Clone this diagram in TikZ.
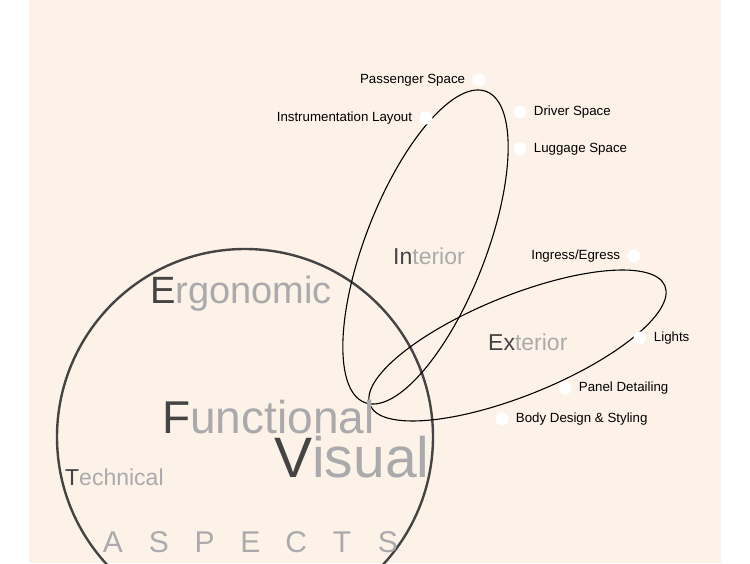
\documentclass[tikz,border=0pt]{standalone}
\usepackage{xcolor}
\usepackage{fontspec}
\setmainfont{Liberation Sans}
\usepackage{tikz}
\usetikzlibrary{positioning}
\definecolor{mypeach}{RGB}{253,242,231}
\definecolor{mydark}{RGB}{68,68,68}
\definecolor{mylight}{RGB}{170,170,172}
\newcommand{\fsz}[1]{\fontsize{#1}{#1}\selectfont}
\tikzset{
  ring/.style={draw=mydark, line width=2.4pt},
  petal/.style={draw=black, line width=1.1pt},
  bigword/.style={inner sep=0pt, anchor=base west, text=mylight},
  dot/.style={circle, fill=white, minimum size=13pt, inner sep=0pt},
  item/.style={font=\fsz{13.3}, inner sep=1pt, text=black}
}

\begin{document}
\begin{tikzpicture}[x=1pt, y=1pt]
  \useasboundingbox (0,0) rectangle (750,563);
  \fill[mypeach] (29,0) rectangle (721,563);

  % Aspects circle and the two petals
  \begin{scope}
    \clip (0,0) rectangle (750,563);
    \draw[ring] (245,126) circle (188);
  \end{scope}
  \draw[petal, rotate around={68.6:(425.5,316)}] (425.5,316) ellipse [x radius=167, y radius=60];
  \draw[petal, rotate around={22:(517.5,217.5)}] (517.5,217.5) ellipse [x radius=159, y radius=50];

  % Big words
  \node[bigword, font=\fsz{38}] (ergo) at (150,259) {{\color{mydark}E}rgonomic};
  \node[bigword, font=\fsz{46}] (func) at (162,130) {{\color{mydark}F}unctional};
  \node[bigword, font=\fsz{57}] (visu) at (274,86) {{\color{mydark}V}isual};
  \node[bigword, font=\fsz{23}] (tech) at (65,78) {{\color{mydark}T}echnical};
  \node[bigword, font=\fsz{23}] (inte) at (393,298) {{\color{mydark}In}terior};
  \node[bigword, font=\fsz{23}] (exte) at (488,212) {{\color{mydark}Ex}terior};
  \foreach \l [count=\i] in {A,S,P,E,C,T,S}
    \node[inner sep=0pt, anchor=base, text=mylight, font=\fsz{30}] (asp\i) at ({113+45.8*(\i-1)},11) {\l};

  % Interior items
  \node[dot] (passdot) at (479,483) {};
  \node[item, left=6pt of passdot] (pass) {Passenger Space};
  \node[dot] (instdot) at (426,445) {};
  \node[item, left=6pt of instdot] (inst) {Instrumentation Layout};
  \node[dot] (drivdot) at (520,451) {};
  \node[item, right=6pt of drivdot] (driv) {Driver Space};
  \node[dot] (luggdot) at (520,414) {};
  \node[item, right=6pt of luggdot] (lugg) {Luggage Space};

  % Exterior items
  \node[dot] (ingrdot) at (634,307) {};
  \node[item, left=6pt of ingrdot] (ingr) {Ingress/Egress};
  \node[dot] (lighdot) at (640,225) {};
  \node[item, right=6pt of lighdot] (ligh) {Lights};
  \node[dot] (panedot) at (565,175) {};
  \node[item, right=6pt of panedot] (pane) {Panel Detailing};
  \node[dot] (bodydot) at (502,144) {};
  \node[item, right=6pt of bodydot] (body) {Body Design \& Styling};
\end{tikzpicture}
\end{document}
